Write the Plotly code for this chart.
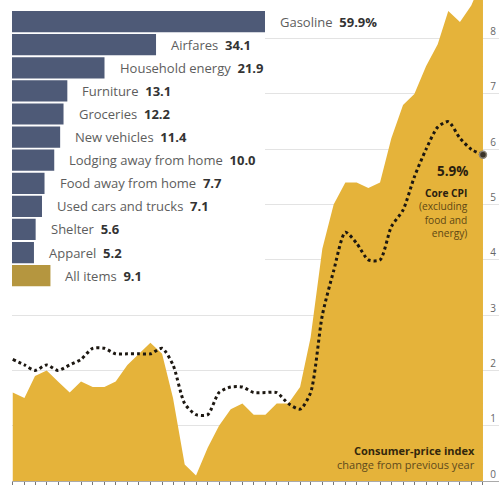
import plotly.graph_objects as go

# ---------------- data ----------------
months = [f"{y}-{m:02d}-01" for y in (2019, 2020, 2021) for m in range(1, 13)] + \
         [f"2022-{m:02d}-01" for m in range(1, 7)]

cpi_all = [1.6, 1.5, 1.9, 2.0, 1.8, 1.6, 1.8, 1.7, 1.7, 1.8, 2.1, 2.3,
           2.5, 2.3, 1.5, 0.3, 0.1, 0.6, 1.0, 1.3, 1.4, 1.2, 1.2, 1.4,
           1.4, 1.7, 2.6, 4.2, 5.0, 5.4, 5.4, 5.3, 5.4, 6.2, 6.8, 7.0,
           7.5, 7.9, 8.5, 8.3, 8.6, 9.1]

cpi_core = [2.2, 2.1, 2.0, 2.1, 2.0, 2.1, 2.2, 2.4, 2.4, 2.3, 2.3, 2.3,
            2.3, 2.4, 2.1, 1.4, 1.2, 1.2, 1.6, 1.7, 1.7, 1.6, 1.6, 1.6,
            1.4, 1.3, 1.6, 3.0, 3.8, 4.5, 4.3, 4.0, 4.0, 4.6, 4.9, 5.5,
            6.0, 6.4, 6.5, 6.2, 6.0, 5.9]

categories = ["Gasoline", "Airfares", "Household energy", "Furniture", "Groceries",
              "New vehicles", "Lodging away from home", "Food away from home",
              "Used cars and trucks", "Shelter", "Apparel", "All items"]
cat_values = [59.9, 34.1, 21.9, 13.1, 12.2, 11.4, 10.0, 7.7, 7.1, 5.6, 5.2, 9.1]
value_labels = ["59.9%", "34.1", "21.9", "13.1", "12.2", "11.4", "10.0", "7.7",
                "7.1", "5.6", "5.2", "9.1"]

y_ticks = [0, 1, 2, 3, 4, 5, 6, 7, 8]

# ---------------- style ----------------
FONT = "Open Sans"
GOLD = "#e5b33a"
SLATE = "#4e5a77"
ALL_ITEMS = "#b5963f"

fig = go.Figure()

fig.add_trace(go.Scatter(
    x=months, y=cpi_all, mode="lines", fill="tozeroy",
    line=dict(width=0, color=GOLD), fillcolor=GOLD, hoverinfo="skip",
    xaxis="x", yaxis="y"))

fig.add_trace(go.Scatter(
    x=months, y=cpi_core, mode="lines",
    line=dict(width=3, color="#1c1711", dash="3px,3px", shape="spline", smoothing=0.7),
    xaxis="x", yaxis="y"))

fig.add_trace(go.Scatter(
    x=[months[-1]], y=[cpi_core[-1]], mode="markers",
    marker=dict(size=7, color="#3a3328", line=dict(width=1.5, color="#8a8478")),
    xaxis="x", yaxis="y", cliponaxis=False))

bar_colors = [SLATE] * (len(categories) - 1) + [ALL_ITEMS]
fig.add_trace(go.Bar(
    x=cat_values, y=categories, orientation="h",
    marker=dict(color=bar_colors, line=dict(width=0)),
    xaxis="x2", yaxis="y2"))

annotations = []
for cat, val, lab in zip(categories, cat_values, value_labels):
    annotations.append(dict(
        x=val, y=cat, xref="x2", yref="y2", xanchor="left", yanchor="middle",
        xshift=13, showarrow=False,
        text=f"{cat}&nbsp;&nbsp;<b><span style='color:#333333'>{lab}</span></b>",
        font=dict(family=FONT, size=13, color="#5d5d5d")))

# right-side labels
annotations += [
    dict(x=0.9405, y=5.60, xref="paper", yref="y", xanchor="right", showarrow=False,
         text="<b>5.9%</b>", font=dict(family=FONT, size=13.5, color="#2a2010")),
    dict(x=0.9405, y=4.85, xref="paper", yref="y", xanchor="right", showarrow=False,
         align="right",
         text="<b><span style='color:#2a2010'>Core CPI</span></b><br>(excluding<br>food and<br>energy)",
         font=dict(family=FONT, size=10.2, color="#5e4714")),
    dict(x=0.955, y=0.55, xref="paper", yref="y", xanchor="right", showarrow=False,
         text="<b>Consumer-price index</b>", font=dict(family=FONT, size=11, color="#33270c")),
    dict(x=0.955, y=0.305, xref="paper", yref="y", xanchor="right", showarrow=False,
         text="change from previous year", font=dict(family=FONT, size=11, color="#5e4a1c")),
]

fig.update_layout(
    width=499, height=485,
    margin=dict(l=12, r=0, t=0, b=4, pad=0),
    paper_bgcolor="white", plot_bgcolor="white",
    showlegend=False,
    font=dict(family=FONT),
    bargap=0.08,
    xaxis=dict(
        type="date", range=["2018-12-30", "2022-07-13 12:00"],
        tickvals=months, ticks="outside", ticklen=4, tickwidth=1, tickcolor="#777777",
        showticklabels=False, showgrid=False, zeroline=False,
        showline=True, linecolor="#aaaaaa", linewidth=1,
        domain=[0, 1], fixedrange=True),
    yaxis=dict(
        range=[0, 8.70], side="right", tickvals=y_ticks,
        ticklabelposition="inside top", tickfont=dict(family=FONT, size=10, color="#666666"),
        showgrid=True, gridcolor="rgba(0,0,0,0.11)", gridwidth=1,
        zeroline=False, ticks="", layer="above traces", domain=[0, 1]),
    xaxis2=dict(
        domain=[0, 0.5195], range=[0, 59.9], anchor="y2",
        visible=False, showgrid=False, zeroline=False),
    yaxis2=dict(
        domain=[0.403, 0.979], anchor="x2", autorange="reversed",
        visible=False, showgrid=False, zeroline=False, categoryorder="array",
        categoryarray=categories),
    annotations=annotations,
)

fig.write_html("out.html")
